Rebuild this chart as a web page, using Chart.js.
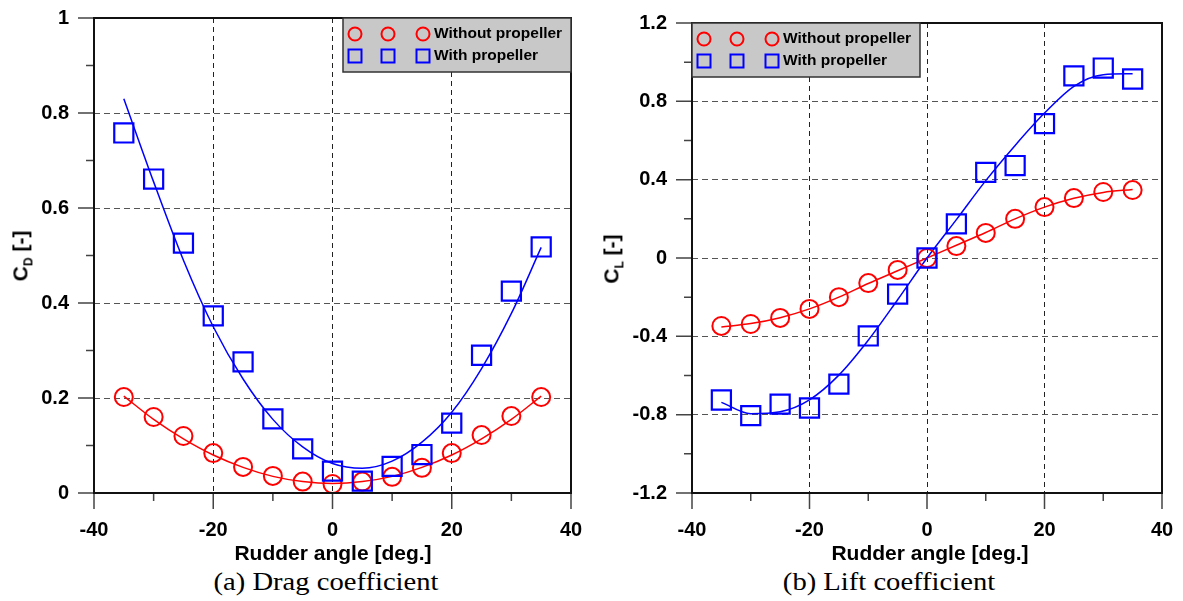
<!DOCTYPE html>
<html>
<head>
<meta charset="utf-8">
<script src="https://cdn.jsdelivr.net/npm/chart.js@4.4.0/dist/chart.umd.min.js"></script>
<style>
body { margin: 0; background: #fff; }
#wrap { position: relative; width: 1183px; height: 601px; overflow: hidden; }
canvas { position: absolute; }
.lbl { position: absolute; transform: translate(-50%, -50%); white-space: nowrap;
  font-family: "Liberation Sans", Arial, sans-serif; font-weight: bold; font-size: 21px; color: #000; }
.ytl { transform: translate(-50%, -50%) rotate(-90deg); }
.ytl sub { font-size: 12px; }
.cap { font-family: "Liberation Serif", "Times New Roman", serif; font-weight: normal; font-size: 26px;
  transform: translate(-50%, -50%) scaleX(1.1); }
</style>
</head>
<body>
<div id="wrap">
  <canvas id="cdChart" width="611" height="575" style="left:0;top:-22px"></canvas>
  <canvas id="clChart" width="612" height="570" style="left:590px;top:-17px"></canvas>
  <div class="lbl ytl" style="left:22px;top:256px">C<sub>D</sub> [-]</div>
  <div class="lbl ytl" style="left:613px;top:259px">C<sub>L</sub> [-]</div>
  <div class="lbl" style="left:333px;top:553px">Rudder angle [deg.]</div>
  <div class="lbl" style="left:930px;top:553px">Rudder angle [deg.]</div>
  <div class="lbl cap" style="left:326px;top:582px">(a) Drag coefficient</div>
  <div class="lbl cap" style="left:889px;top:582px">(b) Lift coefficient</div>
</div>
<script>
const angles = [-35, -30, -25, -20, -15, -10, -5, 0, 5, 10, 15, 20, 25, 30, 35];

// drag coefficient
const cdWithout = [0.202, 0.160, 0.120, 0.084, 0.055, 0.036, 0.024, 0.019, 0.024, 0.034, 0.053, 0.084, 0.122, 0.162, 0.202];
const cdWith = [0.758, 0.661, 0.526, 0.373, 0.276, 0.156, 0.093, 0.046, 0.025, 0.056, 0.081, 0.147, 0.290, 0.425, 0.518];
const cdFitWithout = [0.204, 0.155, 0.114, 0.080, 0.054, 0.035, 0.024, 0.020, 0.024, 0.035, 0.054, 0.080, 0.114, 0.155, 0.204];
const cdFitWith = [0.830, 0.655, 0.490, 0.350, 0.240, 0.155, 0.097, 0.062, 0.052, 0.067, 0.107, 0.170, 0.262, 0.378, 0.517];

// lift coefficient
const clWithout = [-0.347, -0.337, -0.306, -0.260, -0.200, -0.128, -0.061, 0.000, 0.061, 0.128, 0.200, 0.260, 0.306, 0.337, 0.347];
const clWith = [-0.725, -0.805, -0.746, -0.766, -0.644, -0.398, -0.184, 0.000, 0.174, 0.437, 0.472, 0.686, 0.930, 0.970, 0.914];
const clFitWithout = [-0.352, -0.335, -0.305, -0.260, -0.200, -0.130, -0.065, 0.000, 0.065, 0.130, 0.200, 0.260, 0.305, 0.335, 0.350];
const clFitWith = [-0.737, -0.795, -0.785, -0.724, -0.598, -0.420, -0.213, 0.000, 0.196, 0.395, 0.575, 0.740, 0.877, 0.936, 0.941];

const xTicks = [-40, -20, 0, 20, 40];
const xMinor = [-30, -10, 10, 30];
const cdTicks = [0, 0.2, 0.4, 0.6, 0.8, 1];
const cdMinor = [0.1, 0.3, 0.5, 0.7, 0.9];
const clTicks = [-1.2, -0.8, -0.4, 0, 0.4, 0.8, 1.2];
const clMinor = [-1.0, -0.6, -0.2, 0.2, 0.6, 1.0];
const legendLabels = ['Without propeller', 'With propeller'];

const RED = '#ff0000';
const BLUE = '#0000ff';
const FONT = '"Liberation Sans", Arial, sans-serif';
Chart.defaults.font.family = FONT;
Chart.defaults.color = '#000';

const pts = (ys) => angles.map((a, i) => ({ x: a, y: ys[i] }));

// frame, tick marks and the grey legend box
const frameTicks = {
    id: 'frameTicks',
    afterDraw(chart, args, opts) {
        const { ctx, chartArea: a } = chart;
        const x = chart.scales.x, y = chart.scales.y;
        ctx.save();
        ctx.strokeStyle = '#444';
        ctx.lineWidth = 1.5;
        ctx.beginPath();
        xTicks.forEach(v => { const p = x.getPixelForValue(v); ctx.moveTo(p, a.bottom); ctx.lineTo(p, a.bottom + 16); });
        xMinor.forEach(v => { const p = x.getPixelForValue(v); ctx.moveTo(p, a.bottom); ctx.lineTo(p, a.bottom + 8); });
        opts.major.forEach(v => { const p = y.getPixelForValue(v); ctx.moveTo(a.left - 16, p); ctx.lineTo(a.left, p); });
        opts.minor.forEach(v => { const p = y.getPixelForValue(v); ctx.moveTo(a.left - 8, p); ctx.lineTo(a.left, p); });
        ctx.stroke();
        ctx.strokeStyle = '#111';
        ctx.lineWidth = 2;
        ctx.strokeRect(a.left, a.top, a.right - a.left, a.bottom - a.top);

        const w = 228, h = 54;
        const bx = opts.legendSide === 'right' ? a.right - w : a.left;
        const by = a.top;
        ctx.fillStyle = '#c8c8c8';
        ctx.fillRect(bx, by, w, h);
        ctx.strokeStyle = '#333';
        ctx.lineWidth = 1.5;
        ctx.strokeRect(bx, by, w, h);
        const rows = [by + 16, by + 38];
        ctx.lineWidth = 2;
        [12, 45, 80].forEach(dx => {
            ctx.strokeStyle = RED;
            ctx.beginPath();
            ctx.arc(bx + dx, rows[0], 6.5, 0, Math.PI * 2);
            ctx.stroke();
            ctx.strokeStyle = BLUE;
            ctx.strokeRect(bx + dx - 6.5, rows[1] - 6.5, 13, 13);
        });
        ctx.fillStyle = '#000';
        ctx.font = 'bold 15.5px ' + FONT;
        ctx.textBaseline = 'middle';
        ctx.textAlign = 'left';
        legendLabels.forEach((t, i) => ctx.fillText(t, bx + 91, rows[i]));
        ctx.restore();
    }
};

function makeConfig(fitWithout, fitWith, without, withProp, yTicks, yMinor, yMin, yMax, yWidth, legendSide) {
    const tickFont = { size: 20, weight: 'bold' };
    return {
        type: 'scatter',
        data: {
            datasets: [
                { data: pts(withProp), pointStyle: 'rect', pointRadius: 13.5, borderColor: BLUE, borderWidth: 2.2, backgroundColor: 'transparent' },
                { data: pts(without), pointStyle: 'circle', pointRadius: 9, borderColor: RED, borderWidth: 2, backgroundColor: 'transparent' },
                { data: pts(fitWith), showLine: true, pointRadius: 0, borderColor: BLUE, borderWidth: 1.5, cubicInterpolationMode: 'monotone' },
                { data: pts(fitWithout), showLine: true, pointRadius: 0, borderColor: RED, borderWidth: 1.5, cubicInterpolationMode: 'monotone' }
            ]
        },
        options: {
            responsive: false,
            animation: false,
            devicePixelRatio: 1,
            layout: { padding: { top: 40, right: 40, left: 0, bottom: 0 } },
            plugins: {
                legend: { display: false },
                tooltip: { enabled: false },
                frameTicks: { major: yTicks, minor: yMinor, legendSide: legendSide }
            },
            scales: {
                x: {
                    type: 'linear', min: -40, max: 40,
                    afterBuildTicks: s => { s.ticks = xTicks.map(v => ({ value: v })); },
                    afterFit: s => { s.height = 60; },
                    ticks: { font: tickFont, padding: 25, maxRotation: 0, autoSkip: false, callback: v => String(v) },
                    grid: { color: c => (c.tick && Math.abs(c.tick.value) < 40) ? '#222' : 'rgba(0,0,0,0)', drawTicks: false, lineWidth: 1 },
                    border: { display: false, dash: [5, 4] }
                },
                y: {
                    type: 'linear', min: yMin, max: yMax,
                    afterBuildTicks: s => { s.ticks = yTicks.map(v => ({ value: v })); },
                    afterFit: s => { s.width = yWidth; },
                    ticks: { font: tickFont, padding: 25, autoSkip: false, callback: v => String(+v.toFixed(1)) },
                    grid: { color: c => (c.tick && c.tick.value > yMin + 1e-6 && c.tick.value < yMax - 1e-6) ? '#555' : 'rgba(0,0,0,0)', drawTicks: false, lineWidth: 1 },
                    border: { display: false, dash: [6, 4] }
                }
            }
        },
        plugins: [frameTicks]
    };
}

new Chart(document.getElementById('cdChart'),
    makeConfig(cdFitWithout, cdFitWith, cdWithout, cdWith, cdTicks, cdMinor, 0, 1, 94, 'right'));
new Chart(document.getElementById('clChart'),
    makeConfig(clFitWithout, clFitWith, clWithout, clWith, clTicks, clMinor, -1.2, 1.2, 102, 'left'));
</script>
</body>
</html>
